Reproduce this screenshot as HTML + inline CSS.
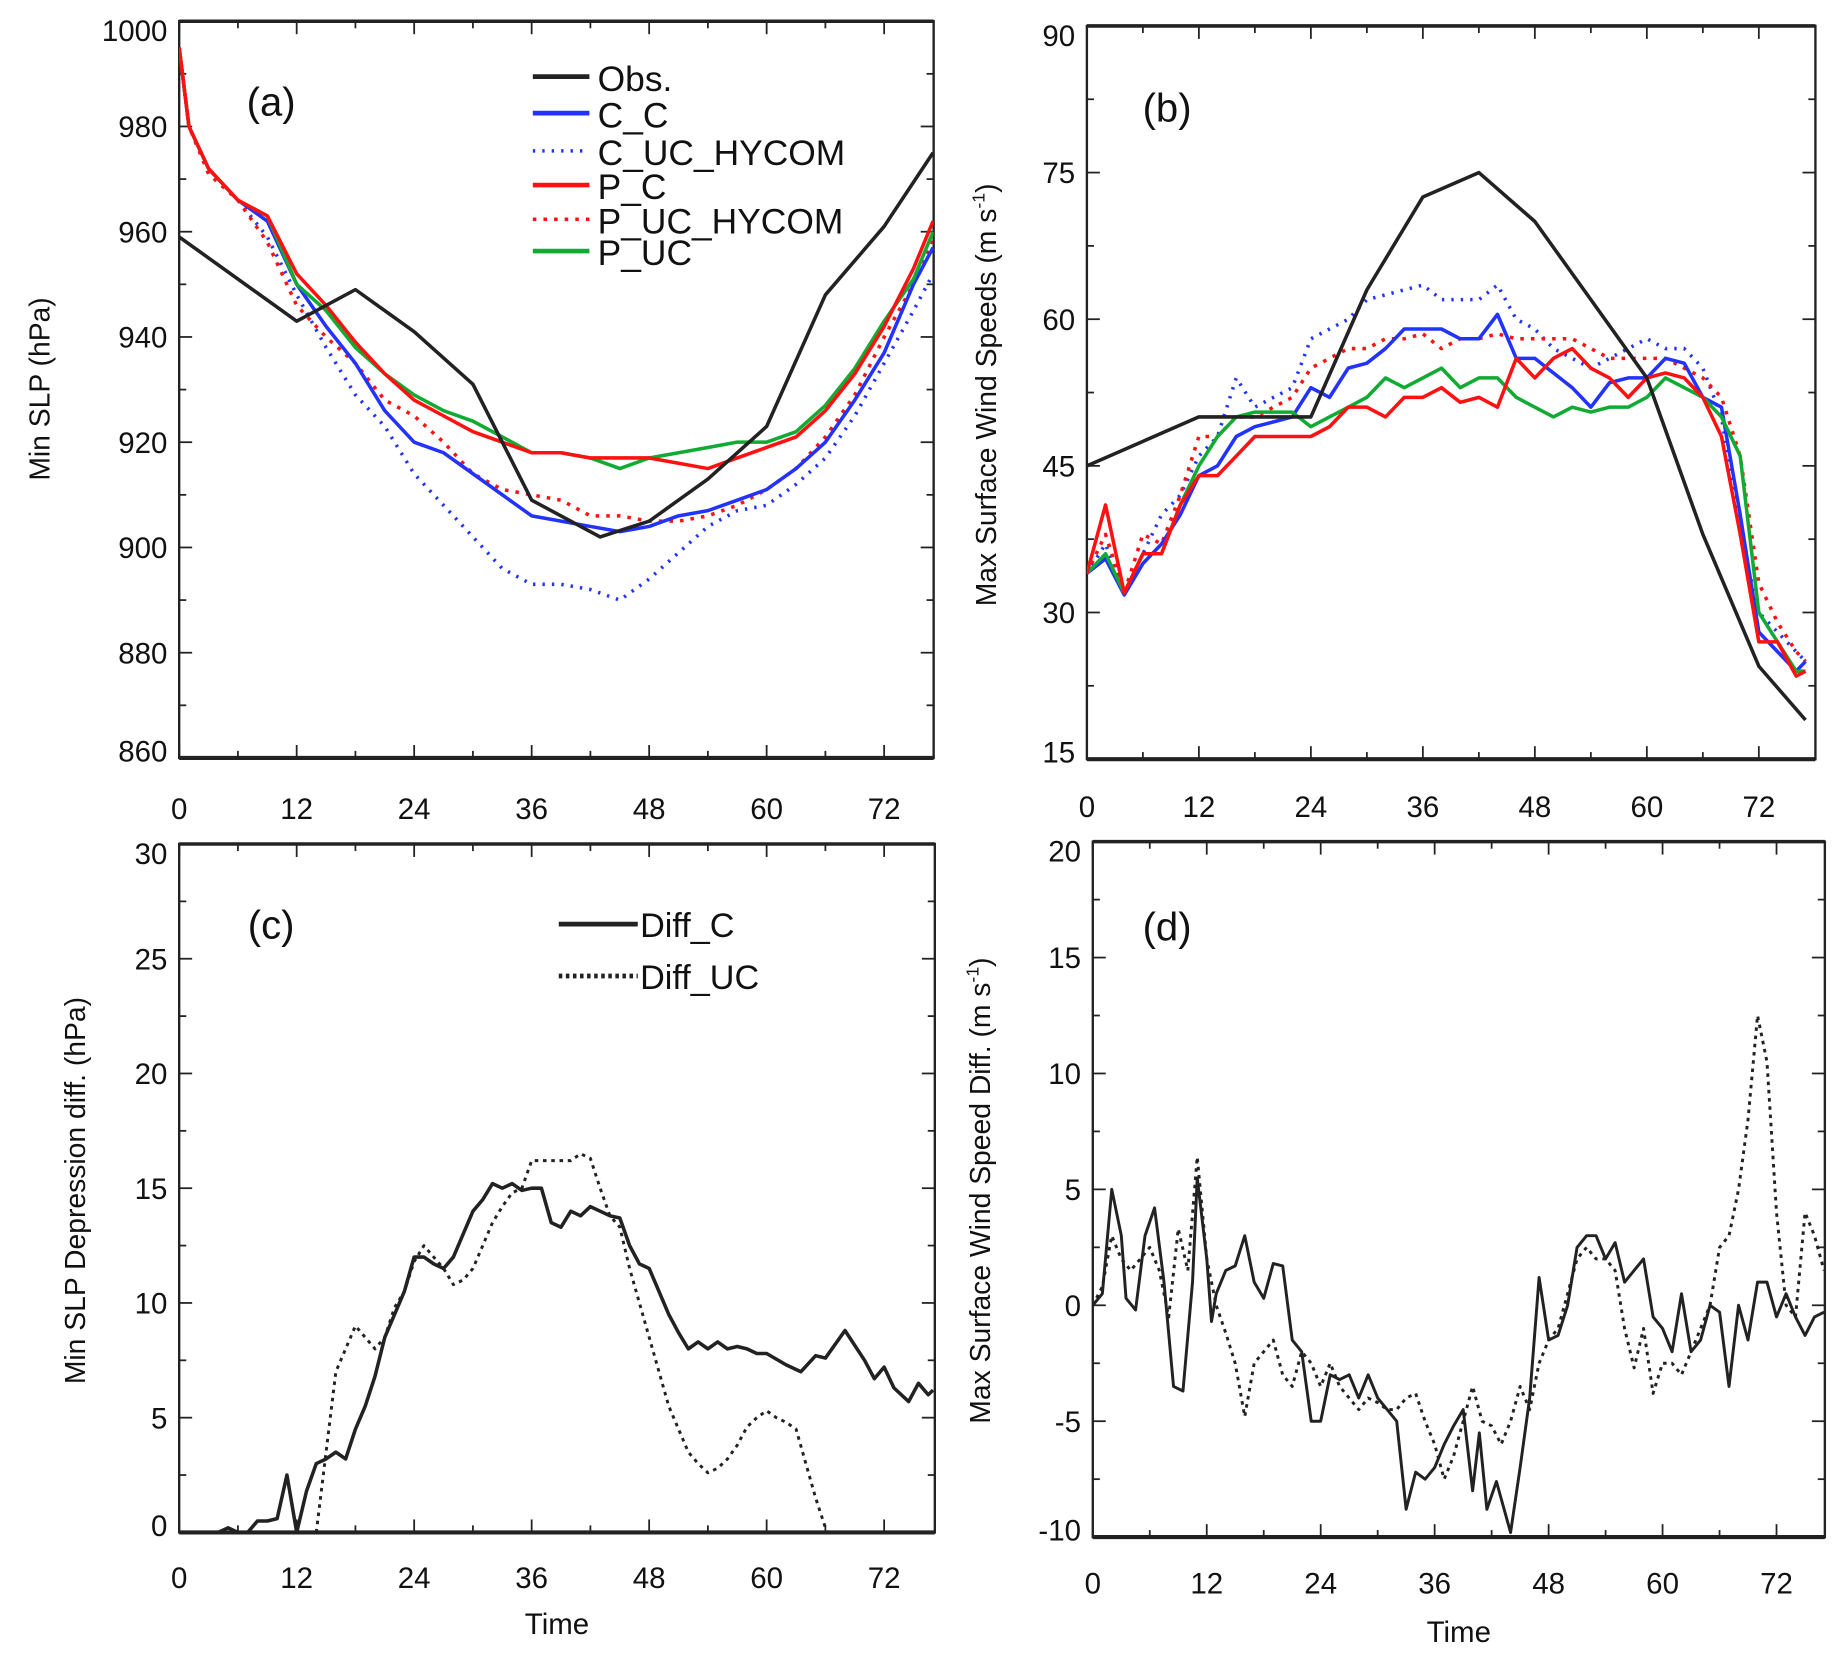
<!DOCTYPE html>
<html><head><meta charset="utf-8"><style>
html,body{margin:0;padding:0;background:#fff;}
svg{display:block;}
text{font-family:"Liberation Sans",sans-serif;fill:#111;}
</style></head><body>
<svg id="fig" width="1839" height="1655" viewBox="0 0 1560 1404" preserveAspectRatio="none" xmlns="http://www.w3.org/2000/svg"></svg>
<script>
// ---------- Panel (a) data: Min SLP (hPa) ----------
const obsA_t = [0,12,18,24,30,36,43,48,54,60,66,72,77];
const obsA_v = [959,943,949,941,931,909,902,905,913,923,948,961,975];
const simA_t = [0,1,3,6,9,12,15,18,21,24,27,30,33,36,39,42,45,48,51,54,57,60,63,66,69,72,75,77];
const ccA = [995,980,972,966,962,950,942,935,926,920,918,914,910,906,905,904,903,904,906,907,909,911,915,920,928,937,950,957];
const cucA = [995,980,972,966,959,948,938,929,923,914,908,902,896,893,893,892,890,894,899,904,907,908,912,917,925,935,945,952];
const pcA = [995,980,972,966,963,952,946,939,933,928,925,922,920,918,918,917,917,917,916,915,917,919,921,926,933,942,953,962];
const pucHA = [995,980,971,966,958,946,940,935,928,925,920,914,911,910,909,906,906,905,905,906,908,911,915,921,929,940,950,959];
const pucA = [995,980,972,966,963,950,945,938,933,929,926,924,921,918,918,917,915,917,918,919,920,920,922,927,934,943,951,960];
const yTicksA = [860,880,900,920,940,960,980,1000];
const xTicks = [0,12,24,36,48,60,72];

// ---------- Panel (b) data: Max surface wind (m/s) ----------
const obsB_t = [0,12,24,30,36,42,48,54,60,66,72,77];
const obsB_v = [45,50,50,63,72.5,75,70,62,54,38,24.5,19];
const simB_t = [0,2,4,6,8,10,12,14,16,18,20,22,24,26,28,30,32,34,36,38,40,42,44,46,48,50,52,54,56,58,60,62,64,66,68,70,72,74,76,77];
const ccB = [34,35.5,31.8,35,37,40,44,45,48,49,49.5,50,53,52,55,55.5,57,59,59,59,58,58,60.5,56,56,54.5,53,51,53.5,54,54,56,55.5,52,51,40,28,26,24,25];
const cucB = [34,37,32,36,40,42,46,48,54,51,52,53,58,59,60,62,62.5,63,63.5,62,62,62,63.5,60,59,57,56,55,56,57,58,57,57,55,50,38,30,28,26,25];
const pcB = [34,41,32,36,36,41,44,44,46,48,48,48,48,49,51,51,50,52,52,53,51.5,52,51,56,54,56,57,55,54,52,54,54.5,54,52,48,38,27,27,23.5,24];
const pucHB = [34,38,32,38,37,42,48,48,50,50,51,52,55,56,57,57,58,58,58.5,57,58,58,58.5,58,58,58,58,57,56,56,56,56,55,54,52,46,33,29,26,25];
const pucB = [34,36,32,36,36,41,45,48,50,50.5,50.5,50.5,49,50,51,52,54,53,54,55,53,54,54,52,51,50,51,50.5,51,51,52,54,53,52,50,46,30,27,24,24];
const yTicksB = [15,30,45,60,75,90];

// ---------- Panel (c) data: Min SLP depression diff (hPa) ----------
const diffC_t = [4,5,6,7,8,9,10,11,12,13,14,15,16,17,18,19,20,21,22,23,24,25,26,27,28,29,30,31,32,33,34,35,36,37,38,39,40,41,42,43,44,45,46,47,48,49,50,51,52,53,54,55,56,57,58,59,60,62,63.5,65,66,68,70,71,72,73,74.5,75.5,76.5,77];
const diffC_v = [0,0.2,0,0,0.5,0.5,0.6,2.5,0,1.8,3,3.2,3.5,3.2,4.5,5.5,6.8,8.5,9.5,10.5,12,12,11.7,11.5,12,13,14,14.5,15.2,15,15.2,14.9,15,15,13.5,13.3,14,13.8,14.2,14,13.8,13.7,12.5,11.7,11.5,10.5,9.5,8.7,8,8.3,8,8.3,8,8.1,8,7.8,7.8,7.3,7,7.7,7.6,8.8,7.5,6.7,7.2,6.3,5.7,6.5,6,6.2];
const diffUC_t = [14,15,16,17,18,19,20,21,22,23,24,25,26,27,28,29,30,31,32,33,34,35,36,38,40,41,42,43,44,45,46,47,48,49,50,51,52,53,54,55,56,57,58,59,60,61,62,63,64,65,66,67];
const diffUC_v = [0,3.5,7,8,9,8.5,8,8.5,9.8,10.5,11.8,12.5,12,11.5,10.8,11,11.5,12.5,13.5,14.2,14.8,15,16.2,16.2,16.2,16.5,16.3,15,13.8,13.3,11.5,10,8.5,7,5.5,4.5,3.5,3,2.6,2.8,3.2,3.8,4.6,5,5.3,5,4.8,4.5,3,1.5,0.2,-0.5];
const yTicksC = [0,5,10,15,20,25,30];

// ---------- Panel (d) data: Max wind speed diff (m/s) ----------
const diffD_t = [0,1,2,3,3.5,4.5,5.5,6.5,7.5,8.5,9.5,10.5,11,12,12.5,13,14,15,16,17,18,19,20,21,22,23,24,25,26,27,28,29,30,31,32,33,34,35,36,37,38,39,40,40.7,41.5,42.5,44,45,46,47,48,49,50,51,52,53,54,55,56,57,58,59,60,61,62,63,64,65,66,67,68,69,70,71,72,73,74,75,76,77];
const diffD_v = [0,0.5,5,3,0.3,-0.2,3,4.2,1,-3.5,-3.7,1,5.5,2,-0.7,0.5,1.5,1.7,3,1,0.3,1.8,1.7,-1.5,-2,-5,-5,-3,-3.2,-3,-4,-3,-4,-4.5,-5,-8.8,-7.2,-7.5,-7,-6,-5.2,-4.5,-8,-5.5,-8.8,-7.6,-9.8,-7,-4,1.2,-1.5,-1.3,0,2.5,3,3,2,2.7,1,1.5,2,-0.5,-1,-2,0.5,-2,-1.5,0,-0.3,-3.5,0,-1.5,1,1,-0.5,0.5,-0.5,-1.3,-0.5,-0.3];
const diffDU_t = [0,1,2,3,4,5,6,7,8,9,10,11,12,13,14,15,16,17,18,19,20,21,22,23,24,25,26,27,28,29,30,31,32,33,34,35,36,37,38,39,40,41,42,43,44,45,46,47,48,49,50,51,52,53,54,55,56,57,58,59,60,61,62,63,64,65,66,67,68,69,70,71,72,73,74,75,76,77];
const diffDU_v = [0,0.8,3,2,1.5,2,2.5,1.5,-0.5,3.3,1.5,6.4,2,0,-1.2,-2.5,-4.8,-2.5,-2,-1.5,-3,-3.5,-2,-2.5,-3.5,-2.5,-3.5,-4,-4.5,-4,-4.2,-4.5,-4.5,-4,-3.8,-5,-6,-7.5,-6.5,-5,-3.5,-5,-5.2,-6,-5,-3.5,-4.5,-2.5,-1.5,-1,0.5,2,2.5,2,2,1.5,-1,-2.7,-1,-3.8,-2.5,-2.5,-3,-2,-1,0,2.5,3,5,8,12.5,10.5,4,0,-0.5,4,3,1.5];
const yTicksD = [-10,-5,0,5,10,15,20];

const NS = 'http://www.w3.org/2000/svg';
const svg = document.getElementById('fig');
function el(tag, attrs, parent){ const e=document.createElementNS(NS,tag); for(const k in attrs) e.setAttribute(k,attrs[k]); (parent||svg).appendChild(e); return e; }

function makePanel(p){
  const g = el('g',{});
  
  
  const sx = t => p.x0 + (t - 0) * (p.x72 - p.x0) / 72;
  const sy = v => p.yb + (v - p.ymin) * (p.yt - p.yb) / (p.ymax - p.ymin);
  p.sx = sx; p.sy = sy;
  // clip
  const cid = 'clip-' + p.name;
  const cp = el('clipPath',{id:cid}, g);
  el('rect',{x:p.left,y:p.yt,width:p.right-p.left,height:p.yb-p.yt}, cp);
  // box
  const box = el('rect',{x:p.left,y:p.yt,width:p.right-p.left,height:p.yb-p.yt,fill:'none',stroke:'#222','stroke-width':2}, g);
  
  
  el('line',{x1:p.left,x2:p.right,y1:p.yb,y2:p.yb,stroke:'#222','stroke-width':3.5}, g);
  el('line',{x1:p.left,x2:p.right,y1:p.yt,y2:p.yt,stroke:'#222','stroke-width':3}, g);
  // x ticks
  for(let t=0;t<=p.tmax;t+=6){
    const x=sx(t); const L = (t%12===0)?11:6;
    el('line',{x1:x,x2:x,y1:p.yb,y2:p.yb-L,stroke:'#222','stroke-width':1.5}, g);
    el('line',{x1:x,x2:x,y1:p.yt,y2:p.yt+L,stroke:'#222','stroke-width':1.5}, g);
  }
  xTicks.forEach(t=>{
    const tx = el('text',{x:sx(t),y:p.xlabY,'text-anchor':'middle','font-size':25}, g);
    tx.textContent = t;
    
    
  });
  // y ticks
  const yt = p.yticks; const step = yt[1]-yt[0];
  for(let v=p.ymin; v<=p.ymax+0.001; v+=step/2){
    const y=sy(v); const major = Math.abs(((v-yt[0])/step)-Math.round((v-yt[0])/step))<0.01;
    const L = major?11:6;
    el('line',{x1:p.left,x2:p.left+L,y1:y,y2:y,stroke:'#222','stroke-width':1.5}, g);
    el('line',{x1:p.right,x2:p.right-L,y1:y,y2:y,stroke:'#222','stroke-width':1.5}, g);
  }
  yt.forEach((v,i)=>{
    let y = sy(v)+9;
    if(i===yt.length-1) y += 8;
    if(i===0) y -= 6;
    const tx = el('text',{x:p.left-10,y:y,'text-anchor':'end','font-size':25}, g);
    tx.textContent = v;
    
    
  });
  // y title
  const yt2 = el('text',{x:0,y:0,'text-anchor':'middle','font-size':24,transform:`translate(${p.ytx},${p.yty}) rotate(-90)`}, g);
  yt2.innerHTML = p.ytitle;
  
  
  if(p.xtitle){
    const xt = el('text',{x:(p.left+p.right)/2,y:p.xtitleY,'text-anchor':'middle','font-size':25}, g);
    xt.textContent = 'Time';
    
    
  }
  const lab = el('text',{x:p.labX,y:p.labY,'text-anchor':'middle','font-size':34}, g);
  lab.textContent = p.label;
  
  
  const series = el('g',{'clip-path':`url(#${cid})`}, g);
  p.series = series;
  return p;
}
function line(p, ts, vs, color, dash, width, name){
  const pts = ts.map((t,i)=>p.sx(t).toFixed(1)+','+p.sy(vs[i]).toFixed(1)).join(' ');
  const pl = el('polyline',{points:pts,fill:'none',stroke:color,'stroke-width':width||3,'stroke-linejoin':'round'}, p.series);
  if(dash) pl.setAttribute('stroke-dasharray', dash);
  
  
}

const A = makePanel({name:'panel-a-min-slp',left:152,right:792,x0:152,x72:750,tmax:77,yt:18,yb:643,ymin:860,ymax:1000,yticks:yTicksA,xlabY:695,ytx:42,yty:330,ytitle:'Min SLP (hPa)',label:'(a)',labX:230,labY:98});
line(A, simA_t, cucA, '#2233ff', '2 6', 3, 'series-c-uc-hycom');
line(A, simA_t, pucHA, '#ff1111', '3 6', 3, 'series-p-uc-hycom');
line(A, simA_t, ccA, '#2233ff', null, 3, 'series-c-c');
line(A, simA_t, pucA, '#11aa33', null, 3, 'series-p-uc');
line(A, simA_t, pcA, '#ff1111', null, 3, 'series-p-c');
line(A, obsA_t, obsA_v, '#222', null, 3, 'series-obs');

const B = makePanel({name:'panel-b-max-wind',left:922,right:1540,x0:922,x72:1492,tmax:77,yt:22,yb:644,ymin:15,ymax:90,yticks:yTicksB,xlabY:693,ytx:845,yty:335,ytitle:'Max Surface Wind Speeds (m s<tspan font-size="15" dy="-10">-1</tspan><tspan dy="10">)</tspan>',label:'(b)',labX:990,labY:103});
line(B, simB_t, cucB, '#2233ff', '2 6', 3, 'series-c-uc-hycom');
line(B, simB_t, pucHB, '#ff1111', '3 6', 3, 'series-p-uc-hycom');
line(B, simB_t, ccB, '#2233ff', null, 3, 'series-c-c');
line(B, simB_t, pucB, '#11aa33', null, 3, 'series-p-uc');
line(B, simB_t, pcB, '#ff1111', null, 3, 'series-p-c');
line(B, obsB_t, obsB_v, '#222', null, 3, 'series-obs');

const C = makePanel({name:'panel-c-slp-diff',left:152,right:793,x0:152,x72:750,tmax:77,yt:716,yb:1300,ymin:0,ymax:30,yticks:yTicksC,xlabY:1347,ytx:72,yty:1010,ytitle:'Min SLP Depression diff. (hPa)',label:'(c)',labX:230,labY:796,xtitle:true,xtitleY:1386});
line(C, diffUC_t, diffUC_v, '#222', '3 4', 2.5, 'series-diff-uc');
line(C, diffC_t, diffC_v, '#222', null, 3, 'series-diff-c');

const D = makePanel({name:'panel-d-wind-diff',left:927,right:1548,x0:927,x72:1507,tmax:77,yt:714,yb:1304,ymin:-10,ymax:20,yticks:yTicksD,xlabY:1352,ytx:840,yty:1010,ytitle:'Max Surface Wind Speed Diff. (m s<tspan font-size="15" dy="-10">-1</tspan><tspan dy="10">)</tspan>',label:'(d)',labX:990,labY:798,xtitle:true,xtitleY:1393});
line(D, diffDU_t, diffDU_v, '#222', '3 4', 2.5, 'series-diff-uc');
line(D, diffD_t, diffD_v, '#222', null, 2.5, 'series-diff-d');

// legends
const legA = el('g',{});


const legNames = ['Obs.','C_C','C_UC_HYCOM','P_C','P_UC_HYCOM','P_UC'];
const legColors = ['#222','#2233ff','#2233ff','#ff1111','#ff1111','#11aa33'];
const legDash = [null,null,'2 6',null,'3 6',null];
const legY = [65,96,128,157,186,213];
legNames.forEach((n,i)=>{
  const ln = el('line',{x1:452,x2:500,y1:legY[i],y2:legY[i],stroke:legColors[i],'stroke-width':legDash[i]?3:4}, legA);
  if(legDash[i]) ln.setAttribute('stroke-dasharray', legDash[i]);
  
  
  const tx = el('text',{x:507,y:legY[i]+12,'font-size':30}, legA);
  tx.textContent = n;
  
  
});
const legC = el('g',{});


[['Diff_C',null,784],['Diff_UC','3 3',828]].forEach(r=>{
  const ln = el('line',{x1:474,x2:541,y1:r[2],y2:r[2],stroke:'#222','stroke-width':4}, legC);
  if(r[1]) ln.setAttribute('stroke-dasharray', r[1]);
  
  
  const tx = el('text',{x:543,y:r[2]+11,'font-size':29}, legC);
  tx.textContent = r[0];
  
  
});
</script>
</body></html>
